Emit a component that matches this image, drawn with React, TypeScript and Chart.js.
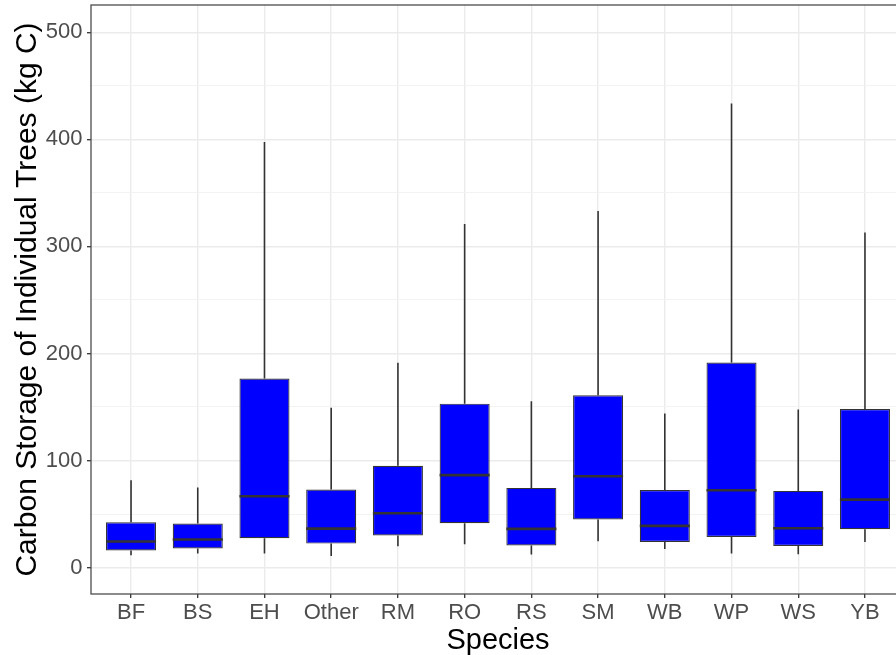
import React, { useEffect, useRef } from "react";
import { Chart, registerables } from "chart.js";

Chart.register(...registerables);

const species = ["BF", "BS", "EH", "Other", "RM", "RO", "RS", "SM", "WB", "WP", "WS", "YB"];
const whiskerLow = [11.5, 13.1, 13.1, 10.8, 19.9, 21.8, 12.1, 24.6, 17.4, 13.1, 12.4, 23.9];
const q1 = [15.9, 17.8, 27.4, 22.4, 29.9, 41.4, 20.6, 44.9, 23.9, 28.6, 20.2, 35.8];
const median = [24.3, 26.2, 66.6, 36.4, 50.7, 86.3, 36.1, 85.3, 38.9, 72.2, 36.7, 63.5];
const q3 = [42.3, 41.1, 176.6, 72.9, 95.0, 153.1, 74.4, 161.0, 72.5, 191.6, 71.6, 148.0];
const whiskerHigh = [81.6, 74.8, 397.5, 149.2, 191.2, 321.0, 155.4, 333.0, 143.9, 433.6, 147.7, 313.0];

const yMajorTicks = [0, 100, 200, 300, 400, 500];
const yMinorTicks = [50, 150, 250, 350, 450];
const yMin = -24.7;
const yMax = 525.5;

const FONT = "'Liberation Sans', Arial, Helvetica, sans-serif";

export default function App() {
  const ref = useRef<HTMLCanvasElement | null>(null);

  useEffect(() => {
    const canvas = ref.current;
    if (!canvas) return;

    const boxPlugin = {
      id: "boxParts",
      beforeDatasetsDraw(chart: any) {
        const { ctx, scales, chartArea } = chart;
        const xs = scales.x;
        const ys = scales.y;
        ctx.save();
        ctx.beginPath();
        ctx.rect(chartArea.left, chartArea.top, chartArea.right - chartArea.left, chartArea.bottom - chartArea.top);
        ctx.clip();
        ctx.strokeStyle = "#333333";
        ctx.lineWidth = 1.6;
        species.forEach((_, i) => {
          const x = xs.getPixelForValue(i);
          ctx.beginPath();
          ctx.moveTo(x, ys.getPixelForValue(whiskerHigh[i]));
          ctx.lineTo(x, ys.getPixelForValue(q3[i]));
          ctx.moveTo(x, ys.getPixelForValue(q1[i]));
          ctx.lineTo(x, ys.getPixelForValue(whiskerLow[i]));
          ctx.stroke();
        });
        ctx.restore();
      },
      afterDatasetsDraw(chart: any) {
        const { ctx, scales, chartArea } = chart;
        const ys = scales.y;
        const meta = chart.getDatasetMeta(0);
        ctx.save();
        ctx.strokeStyle = "#333333";
        ctx.lineWidth = 2.6;
        meta.data.forEach((bar: any, i: number) => {
          const half = bar.width / 2;
          const y = ys.getPixelForValue(median[i]);
          ctx.beginPath();
          ctx.moveTo(bar.x - half, y);
          ctx.lineTo(bar.x + half, y);
          ctx.stroke();
        });
        // panel border
        ctx.strokeStyle = "#4d4d4d";
        ctx.lineWidth = 1.3;
        ctx.strokeRect(chartArea.left, chartArea.top, chartArea.right - chartArea.left, chartArea.bottom - chartArea.top);
        ctx.restore();
      },
    };

    const chart = new Chart(canvas, {
      type: "bar",
      data: {
        datasets: [
          {
            label: "Carbon",
            data: species.map((_, i) => ({ x: i, y: [q1[i], q3[i]] })) as any,
            backgroundColor: "#0000ff",
            borderColor: "#333333",
            borderWidth: 1.2,
            borderSkipped: false,
            barPercentage: 0.75,
            categoryPercentage: 1,
          },
        ],
      },
      options: {
        responsive: false,
        animation: false,
        devicePixelRatio: 1,
        layout: { padding: { top: 5, right: 10, left: 0, bottom: 0 } },
        plugins: {
          legend: { display: false },
          tooltip: { enabled: false },
        },
        scales: {
          x: {
            type: "linear",
            offset: false,
            min: -0.6,
            max: 11.6,
            afterBuildTicks(scale: any) {
              scale.ticks = species.map((_, i) => ({ value: i }));
            },
            afterFit(scale: any) {
              scale.height = 61;
              scale.paddingLeft = 0;
              scale.paddingRight = 0;
            },
            grid: {
              offset: false,
              color: "#ebebeb",
              lineWidth: 1.4,
              drawTicks: true,
              tickLength: 4,
              tickColor: "#333333",
              tickWidth: 1.3,
            },
            border: { display: false },
            ticks: {
              autoSkip: false,
              maxRotation: 0,
              padding: 2,
              color: "#4d4d4d",
              font: { family: FONT, size: 22 },
              callback: (v: any) => species[Math.round(Number(v))] ?? "",
            },
            title: {
              display: true,
              text: "Species",
              color: "#000000",
              font: { family: FONT, size: 29, lineHeight: 1 },
              padding: { top: 0, bottom: 0 },
            },
          },
          y: {
            type: "linear",
            min: yMin,
            max: yMax,
            afterBuildTicks(scale: any) {
              scale.ticks = [...yMajorTicks, ...yMinorTicks]
                .sort((a, b) => a - b)
                .map((v) => ({ value: v }));
            },
            afterFit(scale: any) {
              scale.width = 91;
              scale.paddingTop = 0;
              scale.paddingBottom = 0;
            },
            grid: {
              color: (c: any) => (yMajorTicks.includes(c.tick?.value) ? "#ebebeb" : "#f2f2f2"),
              lineWidth: (c: any) => (yMajorTicks.includes(c.tick?.value) ? 1.4 : 0.9),
              drawTicks: true,
              tickLength: 4,
              tickColor: (c: any) => (yMajorTicks.includes(c.tick?.value) ? "#333333" : "rgba(0,0,0,0)"),
              tickWidth: 1.3,
            },
            border: { display: false },
            ticks: {
              autoSkip: false,
              padding: 4.5,
              color: "#4d4d4d",
              font: { family: FONT, size: 22 },
              callback: (v: any) => (yMajorTicks.includes(Number(v)) ? String(v) : ""),
            },
            title: {
              display: true,
              text: "Carbon Storage of Individual Trees (kg C)",
              color: "#000000",
              font: { family: FONT, size: 30, lineHeight: 1 },
              padding: { top: 13, bottom: 0 },
            },
          },
        },
      },
      plugins: [boxPlugin],
    });

    return () => chart.destroy();
  }, []);

  return (
    <div
      style={{
        position: "fixed",
        left: 0,
        top: 0,
        width: 896,
        height: 655,
        overflow: "hidden",
        background: "#ffffff",
      }}
    >
      <canvas ref={ref} width={915} height={655} style={{ display: "block", width: 915, height: 655 }} />
    </div>
  );
}
